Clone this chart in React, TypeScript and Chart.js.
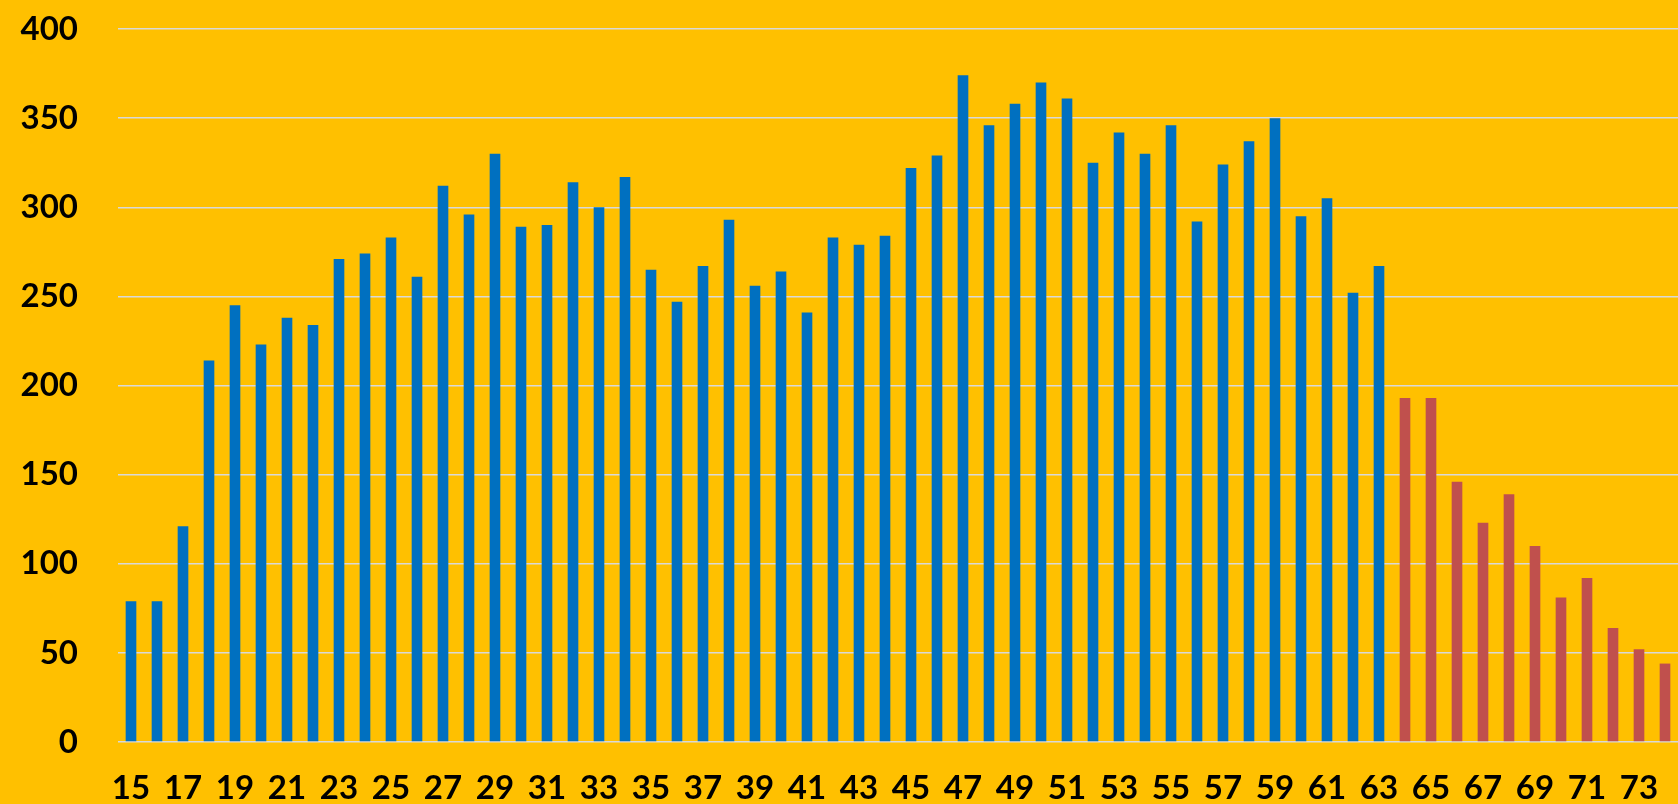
import React, { useEffect, useRef } from 'react';
import { Chart, registerables } from 'chart.js';

Chart.register(...registerables);

const ages: string[] = [
  '15', '16', '17', '18', '19', '20', '21', '22', '23', '24',
  '25', '26', '27', '28', '29', '30', '31', '32', '33', '34',
  '35', '36', '37', '38', '39', '40', '41', '42', '43', '44',
  '45', '46', '47', '48', '49', '50', '51', '52', '53', '54',
  '55', '56', '57', '58', '59', '60', '61', '62', '63', '64',
  '65', '66', '67', '68', '69', '70', '71', '72', '73', '74',
];

// ages 15..63
const workingValues: number[] = [
  79, 79, 121, 214, 245, 223, 238, 234, 271, 274,
  283, 261, 312, 296, 330, 289, 290, 314, 300, 317,
  265, 247, 267, 293, 256, 264, 241, 283, 279, 284,
  322, 329, 374, 346, 358, 370, 361, 325, 342, 330,
  346, 292, 324, 337, 350, 295, 305, 252, 267,
];

// ages 64..74
const retiredValues: number[] = [193, 193, 146, 123, 139, 110, 81, 92, 64, 52, 44];

const yMin = 0;
const yMax = 400;
const yStep = 50;

const BLUE = '#0070C0';
const RED = '#C0504D';
const BG = '#FFC000';
const GRID = '#D9D9D9';

export default function App() {
  const canvasRef = useRef<HTMLCanvasElement | null>(null);

  useEffect(() => {
    document.body.style.margin = '0';
    const canvas = canvasRef.current;
    if (!canvas) return;
    const n = ages.length;
    const blueData = ages.map((_, i) => (i < workingValues.length ? workingValues[i] : null));
    const redData = ages.map((_, i) => {
      const j = i - (n - retiredValues.length);
      return j >= 0 ? retiredValues[j] : null;
    });
    const font = { family: 'Lato, "Open Sans", sans-serif', size: 33, weight: 'bold' as const, lineHeight: 1 };
    const chart = new Chart(canvas, {
      type: 'bar',
      data: {
        labels: ages,
        datasets: [
          {
            label: 'working',
            data: blueData,
            backgroundColor: BLUE,
            grouped: false,
            categoryPercentage: 1,
            barPercentage: 0.41,
          },
          {
            label: 'retired',
            data: redData,
            backgroundColor: RED,
            grouped: false,
            categoryPercentage: 1,
            barPercentage: 0.41,
          },
        ],
      },
      options: {
        animation: false,
        responsive: false,
        maintainAspectRatio: false,
        layout: { padding: { top: 29, left: 0, right: 0, bottom: 0 } },
        plugins: {
          legend: { display: false },
          tooltip: { enabled: false },
          title: { display: false },
        },
        scales: {
          x: {
            grid: { display: false, drawTicks: false },
            border: { display: false },
            ticks: {
              autoSkip: false,
              maxRotation: 0,
              minRotation: 0,
              padding: 30,
              color: '#000',
              font,
              callback: (_v: any, i: number) => (i % 2 === 0 ? ages[i] : ''),
            },
            afterFit: (scale: any) => {
              scale.height = 62;
              scale.paddingLeft = 0;
              scale.paddingRight = 0;
            },
          },
          y: {
            min: yMin,
            max: yMax,
            grid: { color: GRID, lineWidth: 1.5, drawTicks: false },
            border: { display: false },
            ticks: {
              stepSize: yStep,
              padding: 40,
              color: '#000',
              font,
            },
            afterFit: (scale: any) => {
              scale.width = 118;
              scale.paddingTop = 0;
              scale.paddingBottom = 0;
            },
          },
        },
      },
    });
    return () => chart.destroy();
  }, []);

  return (
    <div style={{ position: 'absolute', left: 0, top: 0, width: 1678, height: 804, background: BG }}>
      <canvas ref={canvasRef} width={1678} height={804} style={{ display: 'block', width: 1678, height: 804 }} />
    </div>
  );
}
